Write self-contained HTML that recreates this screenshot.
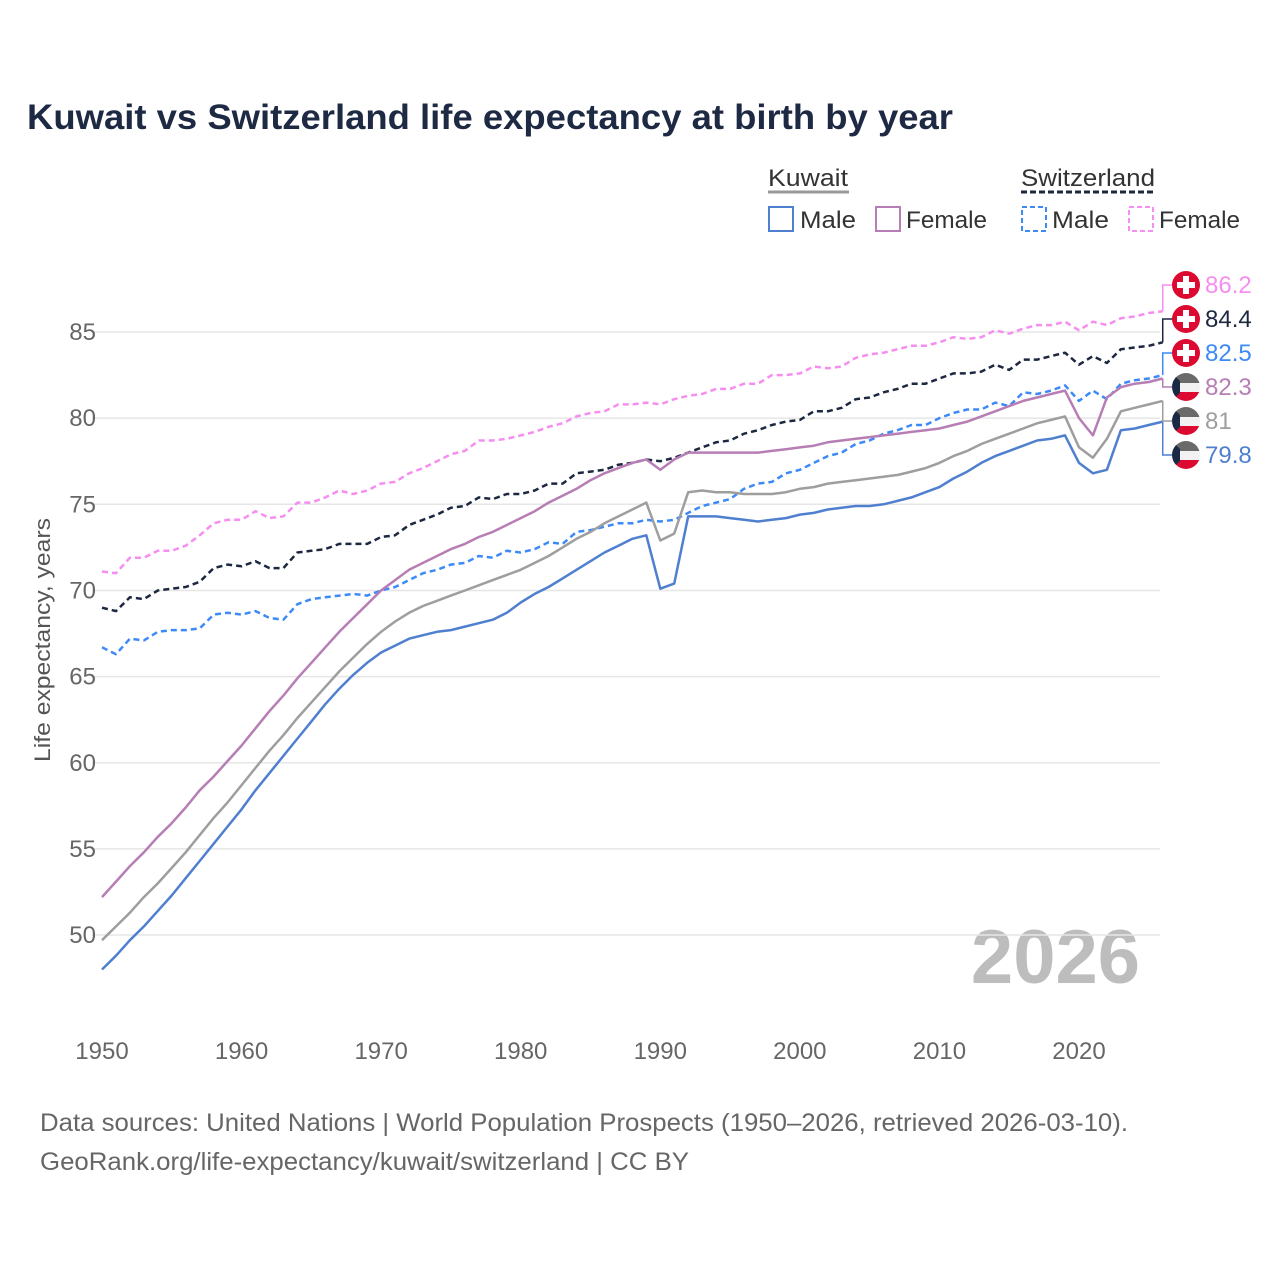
<!DOCTYPE html>
<html><head><meta charset="utf-8"><style>
body{margin:0;background:#fff;font-family:"Liberation Sans",sans-serif}
svg text{font-family:"Liberation Sans",sans-serif}
</style></head><body>
<svg id="c" width="1280" height="1280" viewBox="0 0 1280 1280">
<text x="27" y="129" font-size="35" font-weight="bold" fill="#1e2a44" textLength="926" lengthAdjust="spacingAndGlyphs">Kuwait vs Switzerland life expectancy at birth by year</text>
<g>
<text x="768" y="186" font-size="24" fill="#333" textLength="80" lengthAdjust="spacingAndGlyphs">Kuwait</text>
<line x1="768" y1="192" x2="849" y2="192" stroke="#999" stroke-width="3"/>
<text x="1021" y="186" font-size="24" fill="#333" textLength="134" lengthAdjust="spacingAndGlyphs">Switzerland</text>
<line x1="1021" y1="192" x2="1156" y2="192" stroke="#1c2740" stroke-width="3" stroke-dasharray="6,3"/>
<rect x="769" y="207" width="24" height="24" fill="none" stroke="#4f7fcf" stroke-width="2"/>
<text x="800" y="228" font-size="24" fill="#333" textLength="56" lengthAdjust="spacingAndGlyphs">Male</text>
<rect x="876" y="207" width="24" height="24" fill="none" stroke="#b67eb5" stroke-width="2"/>
<text x="906" y="228" font-size="24" fill="#333" textLength="81" lengthAdjust="spacingAndGlyphs">Female</text>
<rect x="1022" y="207" width="24" height="24" fill="none" stroke="#3d8af7" stroke-width="2" stroke-dasharray="5,3"/>
<text x="1052" y="228" font-size="24" fill="#333" textLength="57" lengthAdjust="spacingAndGlyphs">Male</text>
<rect x="1129" y="207" width="24" height="24" fill="none" stroke="#f58ef0" stroke-width="2" stroke-dasharray="5,3"/>
<text x="1159" y="228" font-size="24" fill="#333" textLength="81" lengthAdjust="spacingAndGlyphs">Female</text>
</g>
<text transform="translate(50,640) rotate(-90)" text-anchor="middle" font-size="22" fill="#555" textLength="244" lengthAdjust="spacingAndGlyphs">Life expectancy, years</text>
<text x="1140" y="983" text-anchor="end" font-size="76" font-weight="bold" fill="#bdbdbd">2026</text>
<g id="grid"></g><g id="lines"></g><g id="labels"></g>
<text x="40" y="1131" font-size="25" fill="#666" textLength="1088" lengthAdjust="spacingAndGlyphs">Data sources: United Nations | World Population Prospects (1950–2026, retrieved 2026-03-10).</text>
<text x="40" y="1170" font-size="25" fill="#666" textLength="649" lengthAdjust="spacingAndGlyphs">GeoRank.org/life-expectancy/kuwait/switzerland | CC BY</text>
<defs><clipPath id="cc"><circle r="14"/></clipPath></defs>
</svg>
<script>
const startYear=1950;
const yTicks=[50,55,60,65,70,75,80,85];
const xTicks=[1950,1960,1970,1980,1990,2000,2010,2020];
const kuwaitMale=[48.0,48.8,49.7,50.5,51.4,52.3,53.3,54.3,55.3,56.3,57.3,58.4,59.4,60.4,61.4,62.4,63.4,64.3,65.1,65.8,66.4,66.8,67.2,67.4,67.6,67.7,67.9,68.1,68.3,68.7,69.3,69.8,70.2,70.7,71.2,71.7,72.2,72.6,73.0,73.2,70.1,70.4,74.3,74.3,74.3,74.2,74.1,74.0,74.1,74.2,74.4,74.5,74.7,74.8,74.9,74.9,75.0,75.2,75.4,75.7,76.0,76.5,76.9,77.4,77.8,78.1,78.4,78.7,78.8,79.0,77.4,76.8,77.0,79.3,79.4,79.6,79.8];
const kuwaitFemale=[52.2,53.1,54.0,54.8,55.7,56.5,57.4,58.4,59.2,60.1,61.0,62.0,63.0,63.9,64.9,65.8,66.7,67.6,68.4,69.2,70.0,70.6,71.2,71.6,72.0,72.4,72.7,73.1,73.4,73.8,74.2,74.6,75.1,75.5,75.9,76.4,76.8,77.1,77.4,77.6,77.0,77.6,78.0,78.0,78.0,78.0,78.0,78.0,78.1,78.2,78.3,78.4,78.6,78.7,78.8,78.9,79.0,79.1,79.2,79.3,79.4,79.6,79.8,80.1,80.4,80.7,81.0,81.2,81.4,81.6,80.0,79.0,81.2,81.8,82.0,82.1,82.3];
const kuwaitTotal=[49.7,50.5,51.3,52.2,53.0,53.9,54.8,55.8,56.8,57.7,58.7,59.7,60.7,61.6,62.6,63.5,64.4,65.3,66.1,66.9,67.6,68.2,68.7,69.1,69.4,69.7,70.0,70.3,70.6,70.9,71.2,71.6,72.0,72.5,73.0,73.4,73.9,74.3,74.7,75.1,72.9,73.3,75.7,75.8,75.7,75.7,75.6,75.6,75.6,75.7,75.9,76.0,76.2,76.3,76.4,76.5,76.6,76.7,76.9,77.1,77.4,77.8,78.1,78.5,78.8,79.1,79.4,79.7,79.9,80.1,78.3,77.7,78.8,80.4,80.6,80.8,81.0];
const swissMale=[66.7,66.3,67.2,67.1,67.6,67.7,67.7,67.8,68.6,68.7,68.6,68.8,68.4,68.3,69.2,69.5,69.6,69.7,69.8,69.7,70.0,70.2,70.6,71.0,71.2,71.5,71.6,72.0,71.9,72.3,72.2,72.4,72.8,72.7,73.4,73.5,73.7,73.9,73.9,74.1,74.0,74.1,74.5,74.9,75.1,75.3,75.9,76.2,76.3,76.8,77.0,77.4,77.8,78.0,78.5,78.7,79.1,79.3,79.6,79.6,80.0,80.3,80.5,80.5,80.9,80.7,81.5,81.4,81.6,81.9,81.0,81.6,81.1,82.0,82.2,82.3,82.5];
const swissFemale=[71.1,71.0,71.9,71.9,72.3,72.3,72.6,73.2,73.9,74.1,74.1,74.6,74.2,74.3,75.1,75.1,75.4,75.8,75.6,75.8,76.2,76.3,76.8,77.1,77.5,77.9,78.1,78.7,78.7,78.8,79.0,79.2,79.5,79.7,80.1,80.3,80.4,80.8,80.8,80.9,80.8,81.1,81.3,81.4,81.7,81.7,82.0,82.0,82.5,82.5,82.6,83.0,82.9,83.0,83.5,83.7,83.8,84.0,84.2,84.2,84.4,84.7,84.6,84.7,85.1,84.9,85.2,85.4,85.4,85.6,85.1,85.6,85.4,85.8,85.9,86.1,86.2];
const swissTotal=[69.0,68.8,69.6,69.5,70.0,70.1,70.2,70.5,71.3,71.5,71.4,71.7,71.3,71.3,72.2,72.3,72.4,72.7,72.7,72.7,73.1,73.2,73.8,74.1,74.4,74.8,74.9,75.4,75.3,75.6,75.6,75.8,76.2,76.2,76.8,76.9,77.0,77.3,77.4,77.6,77.5,77.7,78.0,78.3,78.6,78.7,79.1,79.3,79.6,79.8,79.9,80.4,80.4,80.6,81.1,81.2,81.5,81.7,82.0,82.0,82.3,82.6,82.6,82.7,83.1,82.8,83.4,83.4,83.6,83.8,83.1,83.6,83.2,84.0,84.1,84.2,84.4];
const NS="http://www.w3.org/2000/svg";
const X=y=>102+(y-1950)*13.957;
const Y=v=>332+(85-v)*17.23;
function mk(t,a,p){const e=document.createElementNS(NS,t);for(const k in a)e.setAttribute(k,a[k]);p.appendChild(e);return e;}
const grid=document.getElementById('grid');
yTicks.forEach(t=>{
 const l=mk('line',{x1:92,x2:1160,y1:Y(t),y2:Y(t),stroke:'#e6e6e6','stroke-width':1.5},grid);
 
 
 const tx=mk('text',{x:96,y:Y(t)+8,'text-anchor':'end','font-size':24,fill:'#666'},grid);tx.textContent=t;
 
 
});
xTicks.forEach(t=>{
 const tx=mk('text',{x:X(t),y:1059,'text-anchor':'middle','font-size':24,fill:'#666'},grid);tx.textContent=t;
 
 
});
const series=[
 {d:swissFemale,c:'#f58ef0',dash:'6,4',name:'switzerland-female',flag:'ch'},
 {d:swissTotal,c:'#1c2740',dash:'6,4',name:'switzerland-total',flag:'ch'},
 {d:swissMale,c:'#3d8af7',dash:'6,4',name:'switzerland-male',flag:'ch'},
 {d:kuwaitFemale,c:'#b67eb5',dash:null,name:'kuwait-female',flag:'kw'},
 {d:kuwaitTotal,c:'#9e9e9e',dash:null,name:'kuwait-total',flag:'kw'},
 {d:kuwaitMale,c:'#4f7fcf',dash:null,name:'kuwait-male',flag:'kw'}];
const lines=document.getElementById('lines'),labels=document.getElementById('labels');
series.forEach((s,i)=>{
 const pts=s.d.map((v,j)=>X(startYear+j).toFixed(1)+','+Y(v).toFixed(1)).join(' ');
 const a={points:pts,fill:'none',stroke:s.c,'stroke-width':2.5,'stroke-linejoin':'round'};
 if(s.dash)a['stroke-dasharray']=s.dash;
 const pl=mk('polyline',a,lines);
 
 
 const last=s.d[s.d.length-1],ex=X(startYear+s.d.length-1),ey=Y(last),ly=285+i*34;
 const con=mk('polyline',{points:`${ex},${ey} ${ex},${ly} ${ex+10},${ly}`,fill:'none',stroke:s.c,'stroke-width':1.5},labels);
 
 
 const g=mk('g',{transform:`translate(1186,${ly})`},labels);
 
 
 if(s.flag==='ch'){
  mk('circle',{r:14,fill:'#dc0a30'},g);
  mk('rect',{x:-3,y:-9,width:6,height:18,fill:'#fff'},g);
  mk('rect',{x:-9,y:-3,width:18,height:6,fill:'#fff'},g);
 }else{
  const cg=mk('g',{'clip-path':'url(#cc)'},g);
  mk('rect',{x:-14,y:-14,width:28,height:10,fill:'#6a6a6a'},cg);
  mk('rect',{x:-14,y:-4,width:28,height:9,fill:'#f2f2f2'},cg);
  mk('rect',{x:-14,y:5,width:28,height:10,fill:'#dc0a30'},cg);
  mk('polygon',{points:'-14,-14 -6,-6 -6,6 -14,14',fill:'#1b2a44'},cg);
 }
 const t=mk('text',{x:1205,y:ly+8,'font-size':24,fill:s.c},labels);t.textContent=last;
 
 
});
</script>
</body></html>
